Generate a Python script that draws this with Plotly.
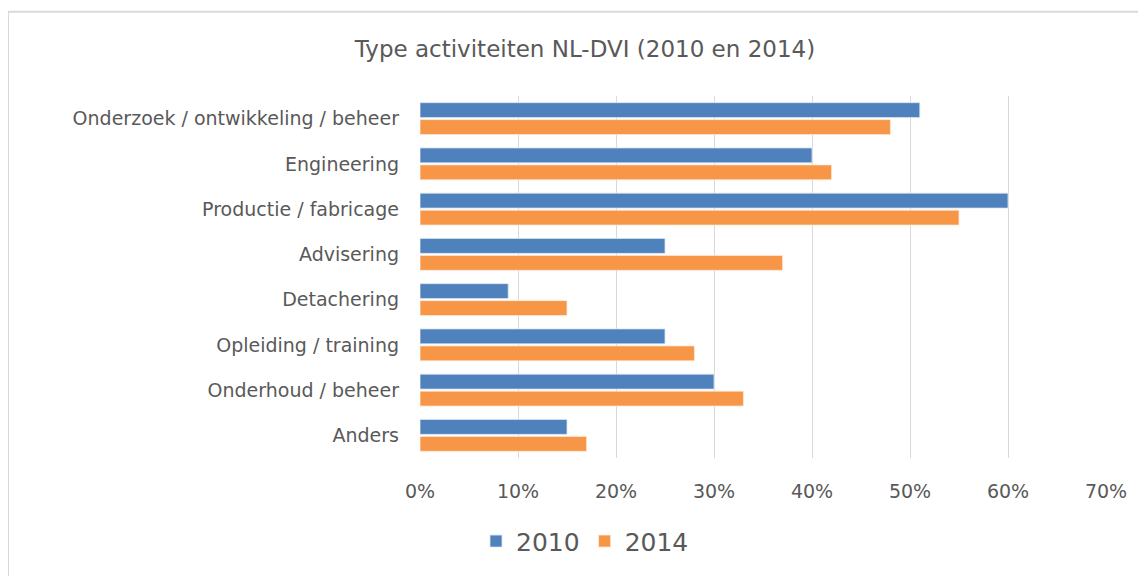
import plotly.graph_objects as go

categories = ["Onderzoek / ontwikkeling / beheer", "Engineering", "Productie / fabricage",
              "Advisering", "Detachering", "Opleiding / training", "Onderhoud / beheer", "Anders"]
values_2010 = [0.51, 0.40, 0.60, 0.25, 0.09, 0.25, 0.30, 0.15]
values_2014 = [0.48, 0.42, 0.55, 0.37, 0.15, 0.28, 0.33, 0.17]
x_ticks = [0, 0.1, 0.2, 0.3, 0.4, 0.5, 0.6, 0.7]
x_ticktext = ["0%", "10%", "20%", "30%", "40%", "50%", "60%", "70%"]

FONT = "DejaVu Sans"
GRAY = "#595959"

fig = go.Figure()
fig.add_trace(go.Bar(y=categories, x=values_2010, name="2010", orientation="h",
                     marker=dict(color="#4f81bd", line=dict(color="#dce6f2", width=0.8))))
fig.add_trace(go.Bar(y=categories, x=values_2014, name="2014", orientation="h",
                     marker=dict(color="#f79646", line=dict(color="#fde9d9", width=0.8))))

# page body has an 8px margin; figure coordinates = page coordinates - 8
OFF = 8
W, H = 1146 - OFF, 576 - OFF
L, R, T, B = 420 - OFF, 40, 96 - OFF, 115
pw, ph = W - L - R, H - T - B

def px_x(p):  # page pixel -> paper x
    return (p - OFF - L) / pw

def px_y(p):  # page pixel -> paper y
    return (H - B - (p - OFF)) / ph

fig.update_layout(
    width=W, height=H,
    margin=dict(l=L, r=R, t=T, b=B),
    paper_bgcolor="white", plot_bgcolor="white",
    barmode="group", bargap=0.25, bargroupgap=0.12,
    title=dict(text="Type activiteiten NL-DVI (2010 en 2014)",
               xref="paper", x=px_x(585), xanchor="center",
               yref="container", y=1 - (49 - OFF) / H, yanchor="middle",
               font=dict(family=FONT, size=23, color=GRAY)),
    xaxis=dict(range=[0, 0.7], tickvals=x_ticks, ticktext=x_ticktext,
               showgrid=True, gridcolor="#d9d9d9", gridwidth=1, zeroline=False,
               showline=False, ticks="", ticklabelstandoff=20,
               tickfont=dict(family=FONT, size=19, color=GRAY), fixedrange=True),
    yaxis=dict(autorange="reversed", showgrid=False, zeroline=False, showline=False,
               ticks="", ticklabelstandoff=20,
               tickfont=dict(family=FONT, size=19, color=GRAY)),
    legend=dict(orientation="h", x=px_x(585), xanchor="center", y=px_y(545), yanchor="middle",
                font=dict(family=FONT, size=25, color=GRAY), itemwidth=30, traceorder="normal"),
    showlegend=True,
)

# outer chart border
fig.add_shape(type="rect", xref="paper", yref="paper",
              x0=px_x(8), x1=px_x(1170), y0=px_y(600), y1=px_y(11),
              line=dict(color="#d9d9d9", width=2), fillcolor="rgba(0,0,0,0)", layer="below")

fig.write_html("out.html")
